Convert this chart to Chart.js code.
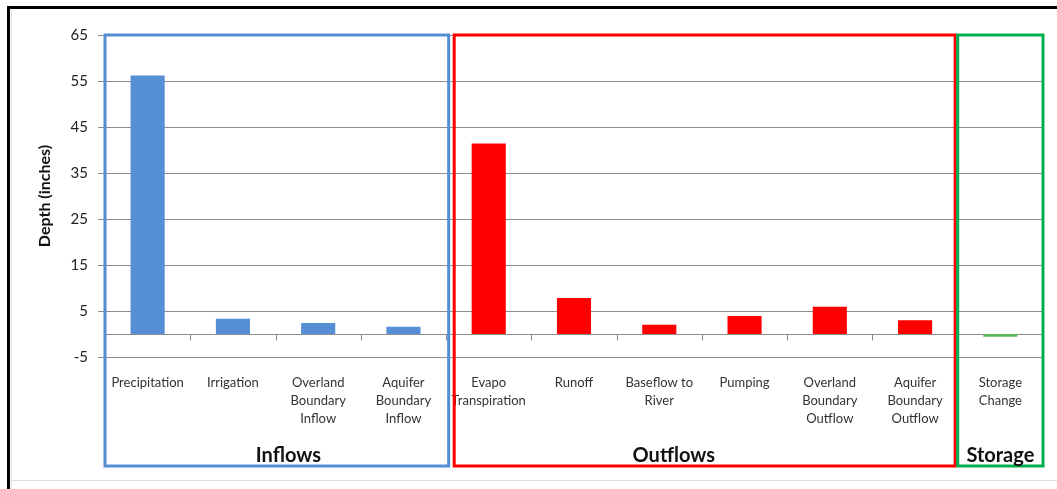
<!DOCTYPE html>
<html>
<head>
<meta charset="utf-8">
<title>Water budget components</title>
<script src="https://cdn.jsdelivr.net/npm/chart.js@4.4.1/dist/chart.umd.min.js"></script>
<style>
  html, body { margin: 0; padding: 0; background: #ffffff; }
  #wrap { width: 1057px; height: 489px; }
</style>
</head>
<body>
<div id="wrap"><canvas id="budget" width="1057" height="489"></canvas></div>
<script>
// Water budget terms (depth in inches)
const categories = [
  'Precipitation',
  'Irrigation',
  ['Overland', 'Boundary', 'Inflow'],
  ['Aquifer', 'Boundary', 'Inflow'],
  ['Evapo', 'Transpiration'],
  'Runoff',
  ['Baseflow to', 'River'],
  'Pumping',
  ['Overland', 'Boundary', 'Outflow'],
  ['Aquifer', 'Boundary', 'Outflow'],
  ['Storage', 'Change']
];
const depths = [56.2, 3.3, 2.4, 1.6, 41.4, 7.8, 2.0, 3.9, 5.9, 3.0, -0.6];
const groupOf = ['Inflows', 'Inflows', 'Inflows', 'Inflows',
  'Outflows', 'Outflows', 'Outflows', 'Outflows', 'Outflows', 'Outflows',
  'Storage'];
const groupNames = ['Inflows', 'Outflows', 'Storage'];
const yTicks = [-5, 5, 15, 25, 35, 45, 55, 65];

const barColor = { Inflows: '#558ED5', Outflows: '#FF0000', Storage: '#5CB85C' };
const boxColor = { Inflows: '#558ED5', Outflows: '#FF0000', Storage: '#00B050' };
// group frame extents in category units, label anchor in category units
const boxSpan = { Inflows: [-0.5, 3.53], Outflows: [3.595, 9.47], Storage: [9.5, 10.5] };
const labelAt = { Inflows: 1.65, Outflows: 6.17, Storage: 10.0 };

const GRID = '#8c8c8c';
const FONT = 'Lato, "Open Sans", sans-serif';

const decorations = {
  id: 'decorations',
  beforeDraw(chart) {
    const ctx = chart.ctx;
    ctx.save();
    ctx.fillStyle = '#ffffff';
    ctx.fillRect(0, 0, chart.width, chart.height);
    ctx.restore();
  },
  beforeDatasetsDraw(chart) {
    // horizontal category axis crossing at zero, with boundary tick marks
    const { ctx, chartArea } = chart;
    const x = chart.scales.x, y = chart.scales.y;
    const y0 = Math.round(y.getPixelForValue(0)) + 0.5;
    ctx.save();
    ctx.strokeStyle = GRID;
    ctx.lineWidth = 1;
    ctx.beginPath();
    ctx.moveTo(chartArea.left, y0);
    ctx.lineTo(chartArea.right, y0);
    for (let i = 1; i < categories.length; i++) {
      const bx = Math.round(x.getPixelForValue(i - 0.5)) + 0.5;
      ctx.moveTo(bx, y0);
      ctx.lineTo(bx, y0 + 6);
    }
    ctx.stroke();
    ctx.restore();
  },
  afterDraw(chart) {
    const { ctx } = chart;
    const x = chart.scales.x, y = chart.scales.y;
    const top = y.getPixelForValue(65);
    const bottom = chart.height - 23;
    ctx.save();
    // group frames
    ctx.lineWidth = 3;
    groupNames.forEach(g => {
      const l = x.getPixelForValue(boxSpan[g][0]);
      const r = x.getPixelForValue(boxSpan[g][1]);
      ctx.strokeStyle = boxColor[g];
      ctx.strokeRect(l, top, r - l, bottom - top);
    });
    // group captions
    ctx.fillStyle = '#111111';
    ctx.font = 'bold 20px ' + FONT;
    ctx.textAlign = 'center';
    ctx.textBaseline = 'middle';
    groupNames.forEach(g => {
      ctx.fillText(g, x.getPixelForValue(labelAt[g]), bottom - 10);
    });
    // outer frame
    ctx.strokeStyle = '#dddddd';
    ctx.lineWidth = 1;
    ctx.beginPath();
    ctx.moveTo(11, chart.height - 8.5);
    ctx.lineTo(chart.width, chart.height - 8.5);
    ctx.moveTo(11.5, 10);
    ctx.lineTo(11.5, chart.height);
    ctx.stroke();
    ctx.strokeStyle = '#000000';
    ctx.lineWidth = 3;
    ctx.beginPath();
    ctx.moveTo(8.5, chart.height);
    ctx.lineTo(8.5, 7.5);
    ctx.lineTo(chart.width, 7.5);
    ctx.stroke();
    ctx.restore();
  }
};

new Chart(document.getElementById('budget'), {
  type: 'bar',
  data: {
    labels: categories,
    datasets: [{
      label: 'Depth (inches)',
      data: depths,
      backgroundColor: groupOf.map(g => barColor[g]),
      borderWidth: 0,
      barPercentage: 0.4,
      categoryPercentage: 1.0
    }]
  },
  options: {
    responsive: false,
    devicePixelRatio: 1,
    animation: false,
    layout: { padding: { left: 32, top: 35, right: 14, bottom: 0 } },
    plugins: {
      legend: { display: false },
      tooltip: { enabled: false }
    },
    scales: {
      x: {
        grid: { display: false },
        border: { display: false },
        ticks: {
          color: '#333333',
          font: { family: FONT, size: 13, lineHeight: 1.385 },
          padding: 9,
          maxRotation: 0,
          autoSkip: false
        },
        afterFit(scale) { scale.height = 132; }
      },
      y: {
        min: -5,
        max: 65,
        afterBuildTicks(scale) { scale.ticks = yTicks.map(v => ({ value: v })); },
        grid: { color: GRID, lineWidth: 1, tickLength: 7, drawTicks: true },
        border: { display: false },
        ticks: {
          color: '#222222',
          font: { family: FONT, size: 15 },
          padding: 10
        },
        title: {
          display: true,
          text: 'Depth (inches)',
          color: '#111111',
          font: { family: FONT, size: 16, weight: 'bold' },
          padding: { top: 3, bottom: 0 }
        },
        afterFit(scale) { scale.width = 73; }
      }
    }
  },
  plugins: [decorations]
});
</script>
</body>
</html>
